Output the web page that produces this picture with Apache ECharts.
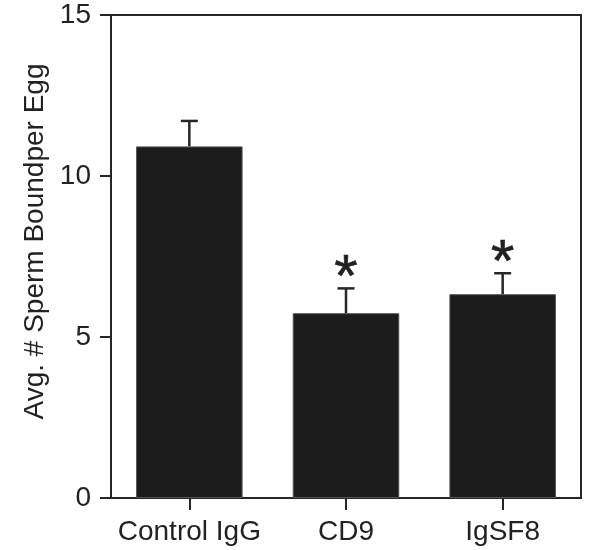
<!DOCTYPE html>
<html><head><meta charset="utf-8">
<script src="https://cdn.jsdelivr.net/npm/echarts@6/dist/echarts.min.js"></script>
<style>html,body{margin:0;padding:0;background:#fff}#c{width:601px;height:550px}</style>
</head><body><div id="c"></div>
<script>
const categories = ['Control IgG', 'CD9', 'IgSF8'];
const means = [10.92, 5.74, 6.33];
const errTops = [11.71, 6.51, 6.98];
const marks = ['', '*', '*'];
const yTicks = [0, 5, 10, 15];

const chart = echarts.init(document.getElementById('c'));
const ink = '#262626';
const ff = 'Liberation Sans, Arial, sans-serif';
chart.setOption({
  animation: false,
  grid: { left: 111, right: 20, top: 15, bottom: 52, show: true, borderColor: ink, borderWidth: 2, backgroundColor: 'transparent' },
  xAxis: {
    type: 'category', data: categories,
    axisLine: { lineStyle: { color: ink, width: 2 } },
    axisTick: { show: true, alignWithLabel: true, length: 12, lineStyle: { color: ink, width: 2 } },
    axisLabel: { interval: 0, color: '#222', fontSize: 28, fontFamily: ff, margin: 20 }
  },
  yAxis: {
    type: 'value', min: 0, max: 15, interval: 5,
    name: 'Avg. # Sperm Boundper Egg', nameLocation: 'middle', nameGap: 60,
    nameTextStyle: { color: '#222', fontSize: 28, fontFamily: ff, padding: [0, 0, 0, 30] },
    axisLine: { show: true, lineStyle: { color: ink, width: 2 } },
    axisTick: { show: true, length: 11, lineStyle: { color: ink, width: 2 } },
    axisLabel: { color: '#222', fontSize: 28, fontFamily: ff, margin: 20,
      formatter: v => yTicks.includes(v) ? String(v) : '' },
    splitLine: { show: false }
  },
  series: [
    {
      type: 'bar', data: means, barCategoryGap: '32%',
      itemStyle: { color: '#1c1c1c', borderColor: '#555', borderWidth: 1 },
      z: 2
    },
    {
      type: 'custom', z: 3,
      data: categories.map((c, i) => [i, means[i], errTops[i]]),
      renderItem: function (params, api) {
        const base = api.coord([api.value(0), api.value(1)]);
        const top = api.coord([api.value(0), api.value(2)]);
        const hw = 8.5;
        const mark = marks[params.dataIndex];
        const children = [
          { type: 'line', shape: { x1: base[0], y1: base[1], x2: top[0], y2: top[1] }, style: { stroke: ink, lineWidth: 2.5 } },
          { type: 'line', shape: { x1: top[0] - hw, y1: top[1], x2: top[0] + hw, y2: top[1] }, style: { stroke: ink, lineWidth: 2.5 } }
        ];
        if (mark) {
          children.push({ type: 'text', style: { text: mark, x: top[0], y: top[1] + 21, textAlign: 'center', textVerticalAlign: 'bottom',
            fontSize: 60, fontFamily: ff, fill: '#222', stroke: '#222', lineWidth: 0.6 } });
        }
        return { type: 'group', children: children };
      }
    }
  ]
});
</script></body></html>
